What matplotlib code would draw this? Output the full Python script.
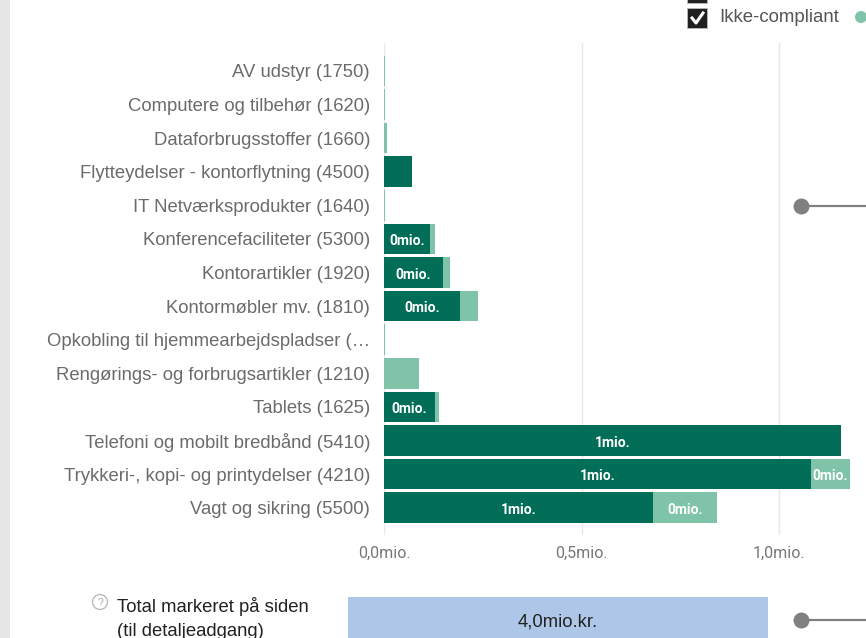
#!/usr/bin/env python
import matplotlib
matplotlib.use("Agg")
import matplotlib.pyplot as plt
from matplotlib.patches import Rectangle, Circle

W, H = 866, 638
DARK = '#026e57'
LIGHT = '#7fc4a8'

categories = ['AV udstyr (1750)', 'Computere og tilbehør (1620)', 'Dataforbrugsstoffer (1660)',
	'Flytteydelser - kontorflytning (4500)', 'IT Netværksprodukter (1640)',
	'Konferencefaciliteter (5300)', 'Kontorartikler (1920)', 'Kontormøbler mv. (1810)',
	'Opkobling til hjemmearbejdspladser (…', 'Rengørings- og forbrugsartikler (1210)',
	'Tablets (1625)', 'Telefoni og mobilt bredbånd (5410)',
	'Trykkeri-, kopi- og printydelser (4210)', 'Vagt og sikring (5500)']
compliant = [0, 0, 0, 0.071, 0, 0.116, 0.149, 0.192, 0, 0, 0.129, 1.157, 1.081, 0.681]
non_compliant = [0.003, 0.003, 0.007, 0, 0.002, 0.013, 0.018, 0.046, 0.002, 0.089, 0.010, 0, 0.099, 0.162]
compliant_labels = ['', '', '', '', '', '0mio.', '0mio.', '0mio.', '', '', '0mio.', '1mio.', '1mio.', '1mio.']
non_compliant_labels = ['', '', '', '', '', '', '', '', '', '', '', '', '0mio.', '0mio.']
xticks = [0.0, 0.5, 1.0]
xticklabels = ['0,0mio.', '0,5mio.', '1,0mio.']
total_value = 4.0
total_label = '4,0mio.kr.'

def axes_px(fig, x0, y0, x1, y1, **kwargs):
	# pixel box measured from the top left corner
	return fig.add_axes([x0 / W, 1 - y1 / H, (x1 - x0) / W, (y1 - y0) / H], **kwargs)

plt.rcParams['font.family'] = ['Liberation Sans', 'DejaVu Sans']
fig = plt.figure(figsize=(W / 100, H / 100), dpi=100, facecolor='white')

# overlay in pixel coordinates for the page furniture
bg = axes_px(fig, 0, 0, W, H)
bg.set_xlim(0, W)
bg.set_ylim(H, 0)
bg.axis('off')
bg.add_patch(Rectangle((0, 0), 10, H, color='#e6e6e6', lw=0))

# main bars
ax = axes_px(fig, 384, 43, W, 535)
ax.set_xlim(0, 482 / 395.0)
ax.set_ylim(13.81, -0.833)
ax.patch.set_alpha(0)
y = list(range(len(categories)))
ax.barh(y, compliant, height=0.91, color=DARK, zorder=2)
ax.barh(y, non_compliant, left=compliant, height=0.91, color=LIGHT, zorder=2)
for i in y:
	if compliant_labels[i]:
		ax.text(compliant[i] / 2, i + 0.06, compliant_labels[i], ha='center', va='center', color='white',
			fontsize=10, fontweight='bold', family=['Roboto', 'DejaVu Sans'], zorder=3)
	if non_compliant_labels[i]:
		ax.text(compliant[i] + non_compliant[i] / 2, i + 0.06, non_compliant_labels[i], ha='center', va='center',
			color='white', fontsize=10, fontweight='bold', family=['Roboto', 'DejaVu Sans'], zorder=3)
ax.set_yticks(y)
ax.set_yticklabels(categories, fontsize=13.3, color='#6b6b6b')
ax.set_xticks(xticks)
ax.set_xticklabels(xticklabels, fontsize=11.5, color='#777777', family=['Roboto', 'DejaVu Sans'])
ax.tick_params(axis='both', length=0)
ax.tick_params(axis='y', pad=10)
ax.tick_params(axis='x', pad=8)
ax.grid(axis='x', color='#e8e8e8', lw=1, zorder=0)
ax.set_axisbelow(True)
for s in ax.spines.values():
	s.set_visible(False)

# total bar
ax2 = axes_px(fig, 348, 597, 768, 638)
ax2.set_xlim(0, total_value)
ax2.set_ylim(-0.5, 0.5)
ax2.barh([0], [total_value], height=1, color='#aec7e8')
ax2.text(total_value / 2, -0.1, total_label, ha='center', va='center', fontsize=13.3, color='#222222')
ax2.axis('off')

# legend checkboxes
bg.add_patch(Rectangle((687, -9), 20, 12, fc='#222222', ec='#bbbbbb', lw=0.6))
bg.add_patch(Rectangle((687, 8), 20, 20, fc='#1f1f1f', ec='#bbbbbb', lw=0.6))
bg.plot([692, 696, 703], [18, 23, 13], color='white', lw=2.2)
bg.text(719, 18, 'Ikke-compliant', fontsize=13.4, color='#555555', va='center', ha='left')
bg.add_patch(Circle((861, 17), 6, color=LIGHT, lw=0))

# slider style handles on the right
for yy in [206, 620]:
	bg.plot([801, 866], [yy, yy], color='#808080', lw=1.6)
	bg.plot([801], [yy], 'o', color='#808080', ms=11.5, mew=0)

# total caption
bg.text(117, 606, 'Total markeret på siden', fontsize=13.3, color='#222222', va='center')
bg.text(117, 631, '(til detaljeadgang)', fontsize=13.3, color='#222222', va='center')
bg.add_patch(Circle((100, 602), 7.5, fc='white', ec='#bbbbbb', lw=1))
bg.text(100, 602.5, '?', fontsize=7.5, color='#aaaaaa', ha='center', va='center')

plt.savefig('out.png', dpi=100)
print('Plot saved in out.png')
